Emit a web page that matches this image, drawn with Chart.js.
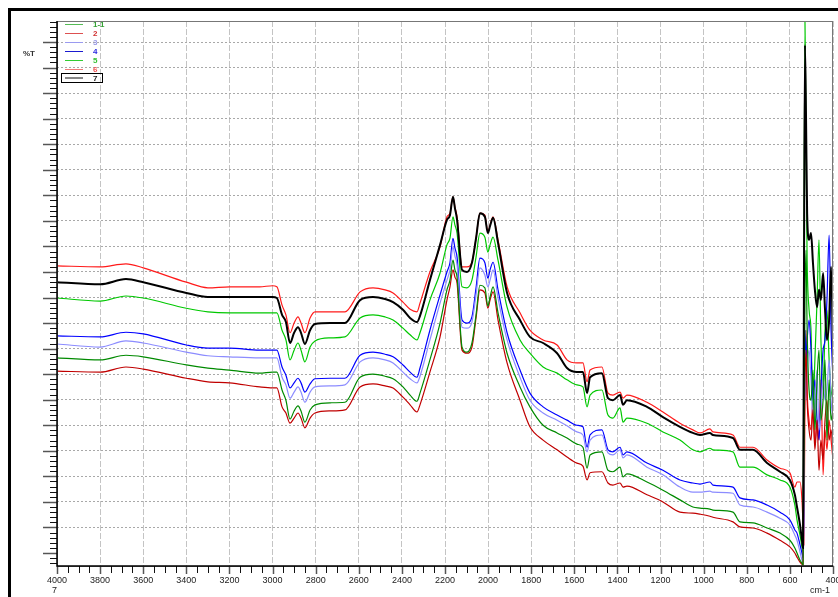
<!DOCTYPE html>
<html>
<head>
<meta charset="utf-8">
<script src="https://cdn.jsdelivr.net/npm/chart.js@4.4.1/dist/chart.umd.min.js"></script>
<style>
  html, body { margin: 0; padding: 0; background: #fff; width: 838px; height: 597px; overflow: hidden; }
  #frame { position: absolute; left: 8px; top: 8px; width: 900px; height: 700px;
           border-left: 3px solid #000; border-top: 3px solid #000; }
  #chart { position: absolute; left: 0; top: 0; }
  .txt { position: absolute; font-family: "Liberation Sans", Arial, sans-serif; white-space: nowrap; }
  .lg-line { position: absolute; left: 65px; width: 18px; }
  .lg-text { position: absolute; left: 93px; font: bold 8px "Liberation Sans", Arial, sans-serif; line-height: 9px; }
</style>
</head>
<body>
<div id="frame"></div>
<canvas id="chart" width="860" height="597"></canvas>
<div class="txt" style="left:23px;top:49px;font-size:8px;font-weight:bold;color:#333;">%T</div>
<div class="txt" style="left:52px;top:585px;font-size:9px;color:#222;">7</div>
<div class="txt" style="left:810px;top:585px;font-size:9px;color:#222;">cm-1</div>
<div id="legend"></div>

<script>
// wavenumber axis (cm-1), shared by all spectra
const wavenumbers = [4000,3800,3680,3600,3400,3300,3200,3060,3000,2980,
  2956,2938,2919,2900,2882,2868,2850,2826,2803,2733,
  2664,2594,2534,2478,2441,2395,2362,2330,2316,2270,
  2223,2191,2177,2163,2154,2144,2121,2098,2075,2056,
  2038,2015,2001,1991,1977,1954,1912,1852,1806,1745,
  1680,1634,1588,1560,1541,1527,1472,1444,1421,1388,
  1374,1356,1263,1189,1110,1050,1017,971,957,864,
  832,771,706,646,600,577,567,553,544,539,
  535,530,525,520,511,502,493,484,474,465,
  456,446,437,428,418,409,400];

// %T values
const t1_1 = [38.2,37.8,38.7,38.4,36.8,36.2,35.8,35.2,35.4,35.4,
  31.9,29.9,26.2,27.8,28.8,27.8,25.6,28.0,29.0,29.4,
  29.5,34.4,35.0,34.6,34.1,32.5,30.9,29.7,31.3,37.8,
  45.0,51.5,53.4,57.3,55.4,54.0,40.3,39.3,41.1,46.6,
  52.4,51.9,48.3,50.1,52.1,47.0,39.1,32.5,28.6,25.0,
  23.5,22.5,21.3,20.7,16.6,19.2,19.8,16.2,15.9,16.8,
  14.9,15.5,13.9,12.3,10.4,9.0,8.8,8.6,8.4,8.0,
  6.1,5.9,4.9,3.9,2.5,1.0,0.0,-1.4,-2.0,-2.3,
  20.2,49.5,59.3,43.6,31.9,29.9,35.8,24.1,33.9,39.7,
  26.0,29.9,37.8,22.1,33.9,26.0,28.0];

const t2 = [35.6,35.4,36.4,36.0,34.2,33.5,33.3,32.5,32.3,32.3,
  28.6,27.4,25.4,26.4,27.4,26.4,24.5,26.4,27.4,27.8,
  28.0,32.5,33.1,32.7,32.3,30.5,29.0,27.6,29.0,35.4,
  42.3,49.5,52.1,55.4,54.0,52.8,39.7,39.1,40.3,46.0,
  51.5,50.9,47.9,49.5,51.1,45.6,37.2,29.9,24.7,22.1,
  20.2,18.8,17.6,17.0,14.3,15.7,15.9,13.7,13.3,13.7,
  12.9,13.1,11.4,10.0,8.0,7.8,7.6,7.2,7.0,6.1,
  5.1,4.9,3.9,2.5,1.2,0.0,-0.8,-1.8,-2.2,-2.3,
  18.2,33.9,39.7,29.9,24.1,22.1,28.0,20.2,26.0,16.2,
  22.1,18.2,26.0,29.9,22.1,24.1,20.2];

const t3 = [40.9,40.3,41.5,41.1,39.3,38.6,38.4,38.2,38.2,38.2,
  34.4,32.9,30.3,31.5,32.5,31.5,29.5,31.5,32.5,32.7,
  32.9,37.4,38.2,37.8,37.2,35.4,34.1,33.3,34.6,41.7,
  48.9,53.4,55.4,59.9,58.1,56.4,44.2,44.0,45.2,50.5,
  55.8,54.4,52.1,53.4,55.4,49.9,41.7,34.4,29.9,27.4,
  26.0,24.9,23.7,23.1,19.8,22.1,23.1,19.6,19.2,20.2,
  18.6,19.2,16.8,15.3,12.9,11.9,11.9,12.1,11.9,11.7,
  9.4,9.0,8.0,6.8,5.5,3.5,2.5,0.2,-1.4,-2.0,
  6.5,39.7,29.9,35.8,39.7,33.9,26.0,29.9,35.8,24.1,
  28.0,33.9,29.9,31.9,37.8,29.9,26.0];

const t4 = [42.5,42.3,43.2,42.9,40.7,40.1,40.1,39.7,39.7,39.7,
  36.4,34.8,32.3,33.3,34.2,33.3,31.5,33.1,34.1,34.2,
  34.2,38.7,39.3,38.9,38.4,36.8,35.4,34.4,36.2,43.6,
  50.5,55.0,56.8,61.6,59.7,57.9,45.6,45.0,46.2,51.9,
  57.7,56.8,53.8,55.4,56.9,51.5,43.1,35.8,31.3,28.6,
  27.0,26.0,25.0,24.7,20.7,23.1,24.1,20.2,19.8,20.7,
  19.2,19.8,17.6,16.2,14.3,13.7,13.5,13.9,13.3,12.9,
  10.8,10.4,9.4,8.0,6.5,4.5,3.9,1.6,0.0,-1.0,
  10.4,43.6,37.8,41.7,45.6,39.7,29.9,33.9,26.0,22.1,
  31.9,39.7,41.7,49.5,62.2,43.6,33.9];

const t5 = [49.9,49.3,50.3,49.9,47.9,47.2,47.0,47.0,47.0,47.0,
  43.6,41.7,37.8,39.7,41.1,39.7,37.4,40.3,41.5,42.1,
  42.3,46.0,46.6,46.2,45.6,44.0,42.7,41.7,43.1,49.5,
  54.8,60.3,61.6,65.8,64.2,62.6,52.1,51.9,53.4,57.9,
  62.6,61.8,58.9,60.3,61.8,57.3,48.1,41.7,39.1,36.4,
  35.2,33.9,32.9,32.5,28.6,30.9,31.9,27.0,26.4,28.4,
  25.6,26.4,25.4,23.7,22.1,20.2,19.8,20.5,20.2,19.8,
  16.8,16.8,15.3,14.3,12.9,9.4,6.5,3.5,1.2,0.2,
  49.5,104.0,78.9,57.3,47.6,43.6,28.0,37.8,49.5,61.3,
  41.7,31.9,43.6,47.6,37.8,31.9,29.9];

const t6 = [56.2,56.0,56.6,55.8,53.0,51.9,52.1,52.1,52.3,52.1,
  48.5,46.6,43.1,45.0,46.2,45.0,43.1,46.0,47.2,47.2,
  47.2,51.1,51.9,51.5,50.9,49.1,47.7,47.2,48.9,55.0,
  59.9,65.8,66.5,69.7,67.7,65.8,56.0,56.0,56.9,61.6,
  66.5,66.1,62.8,64.2,65.8,61.3,52.1,47.0,43.6,41.7,
  40.7,37.8,37.2,37.2,33.5,35.8,36.4,31.3,30.9,31.5,
  30.3,30.9,29.5,27.6,25.4,24.1,23.5,24.3,23.7,23.1,
  20.7,20.7,18.2,16.6,15.7,12.9,13.9,13.9,10.4,5.5,
  1.6,29.9,43.6,31.9,26.0,24.1,29.9,21.1,26.0,22.1,
  33.9,15.3,24.1,20.2,26.0,22.1,18.2];

const t7 = [53.0,52.6,53.6,53.0,50.9,50.1,50.1,50.1,50.1,49.9,
  46.6,45.2,41.1,43.1,44.2,43.1,40.9,43.6,44.8,45.0,
  45.0,49.5,50.1,49.7,49.1,47.6,46.0,45.2,46.4,53.4,
  60.3,65.2,66.1,69.7,67.5,65.2,55.4,55.0,56.8,61.6,
  66.5,65.8,62.6,64.0,65.6,60.7,50.9,45.6,42.3,41.1,
  39.1,36.2,35.4,35.4,31.3,34.4,35.2,30.3,29.9,30.9,
  29.0,29.9,28.6,26.6,24.7,23.5,23.1,23.5,23.1,22.5,
  20.2,20.2,17.6,15.9,14.3,11.4,9.0,5.5,2.5,1.0,
  49.5,99.4,84.7,66.5,61.3,62.6,56.8,51.5,48.1,51.5,
  49.5,54.8,47.6,41.7,45.6,56.0,40.3];

const names = ["1-1", "2", "3", "4", "5", "6", "7"];
const series = [t1_1, t2, t3, t4, t5, t6, t7];
const lineColors = ["#008a00", "#c00000", "#8c8cff", "#0000ff", "#00c800", "#ff1a1a", "#000000"];
const legendLine = ["#55bb55", "#dd5050", "#9a9af0", "#1a1ad0", "#33cc33", "#f07878", "#888888"];
const legendText = ["#33a033", "#d03030", "#9a9ae6", "#2828e0", "#33c033", "#f05050", "#222222"];

// legend, drawn as html in the top-left corner of the plot
const legend = document.getElementById("legend");
names.forEach((n, i) => {
  const cy = 24.3 + i * 9;
  const heavy = n === "7";
  legend.insertAdjacentHTML("beforeend",
    `<div class="lg-line" style="top:${cy - (heavy ? 1 : 0.5)}px;height:${heavy ? 2 : 1}px;background:${legendLine[i]}"></div>` +
    `<div class="lg-text" style="top:${cy - 4.5}px;color:${legendText[i]}">${n}</div>`);
});
legend.insertAdjacentHTML("beforeend",
  `<div style="position:absolute;left:61px;top:73px;width:40px;height:8px;border:1px solid #000"></div>`);

// tick marks and plot frame
const frameTicks = {
  id: "frameTicks",
  afterDraw(chart) {
    const { ctx, chartArea: a, scales: { x, y } } = chart;
    ctx.save();
    ctx.strokeStyle = "#777";
    ctx.lineWidth = 1;
    ctx.strokeRect(a.left + 0.5, a.top + 0.5, a.right - a.left - 1, a.bottom - a.top);

    for (let v = Math.ceil(y.min); v <= y.max; v++) {
      const py = Math.round(y.getPixelForValue(v)) + 0.5;
      const major = v % 5 === 0;
      ctx.beginPath();
      ctx.strokeStyle = major ? "#555" : "#111";
      ctx.lineWidth = major ? 1.5 : 1;
      ctx.moveTo(a.left - (major ? 14 : 7), py);
      ctx.lineTo(a.left, py);
      ctx.stroke();
    }
    for (let v = 400; v <= 4000; v += 50) {
      const px = Math.round(x.getPixelForValue(v)) + 0.5;
      const major = v % 200 === 0;
      ctx.beginPath();
      ctx.strokeStyle = major ? "#555" : "#111";
      ctx.lineWidth = major ? 1.5 : 1;
      ctx.moveTo(px, a.bottom);
      ctx.lineTo(px, a.bottom + (major ? 8 : 7));
      ctx.stroke();
    }

    ctx.strokeStyle = "#000";
    ctx.lineWidth = 1.5;
    ctx.beginPath();
    ctx.moveTo(a.left, a.top);
    ctx.lineTo(a.left, a.bottom);
    ctx.lineTo(a.right, a.bottom);
    ctx.stroke();
    ctx.restore();
  }
};

new Chart(document.getElementById("chart"), {
  type: "line",
  data: {
    datasets: series.map((s, i) => ({
      label: names[i],
      data: wavenumbers.map((w, k) => ({ x: w, y: s[k] })),
      borderColor: lineColors[i],
      borderWidth: names[i] === "7" ? 2 : 1.2,
      pointRadius: 0,
      cubicInterpolationMode: "monotone",
      order: names[i] === "7" ? 0 : 1
    }))
  },
  options: {
    responsive: false,
    animation: false,
    layout: { padding: { left: 37, right: 27, top: 21, bottom: 0 } },
    plugins: { legend: { display: false }, tooltip: { enabled: false } },
    scales: {
      x: {
        type: "linear",
        reverse: true,
        min: 400,
        max: 4000,
        ticks: {
          stepSize: 200,
          autoSkip: false,
          maxRotation: 0,
          padding: 9,
          color: "#222",
          font: { family: "Liberation Sans", size: 9 },
          callback: v => String(v)
        },
        grid: { color: "#c4c4c4", drawTicks: false },
        border: { display: false, dash: [6, 2] },
        afterFit(s) { s.height = 31; }
      },
      y: {
        min: -2.54,
        max: 104.11,
        ticks: { stepSize: 5, display: false },
        grid: {
          drawTicks: false,
          color: c => {
            const v = c.tick ? c.tick.value : NaN;
            return (v >= 0 && v <= 100 && Math.abs(v % 5) < 1e-6) ? "#a8a8a8" : "rgba(0,0,0,0)";
          }
        },
        border: { display: false, dash: [2, 2] },
        afterFit(s) { s.width = 20; }
      }
    }
  },
  plugins: [frameTicks]
});
</script>
</body>
</html>
